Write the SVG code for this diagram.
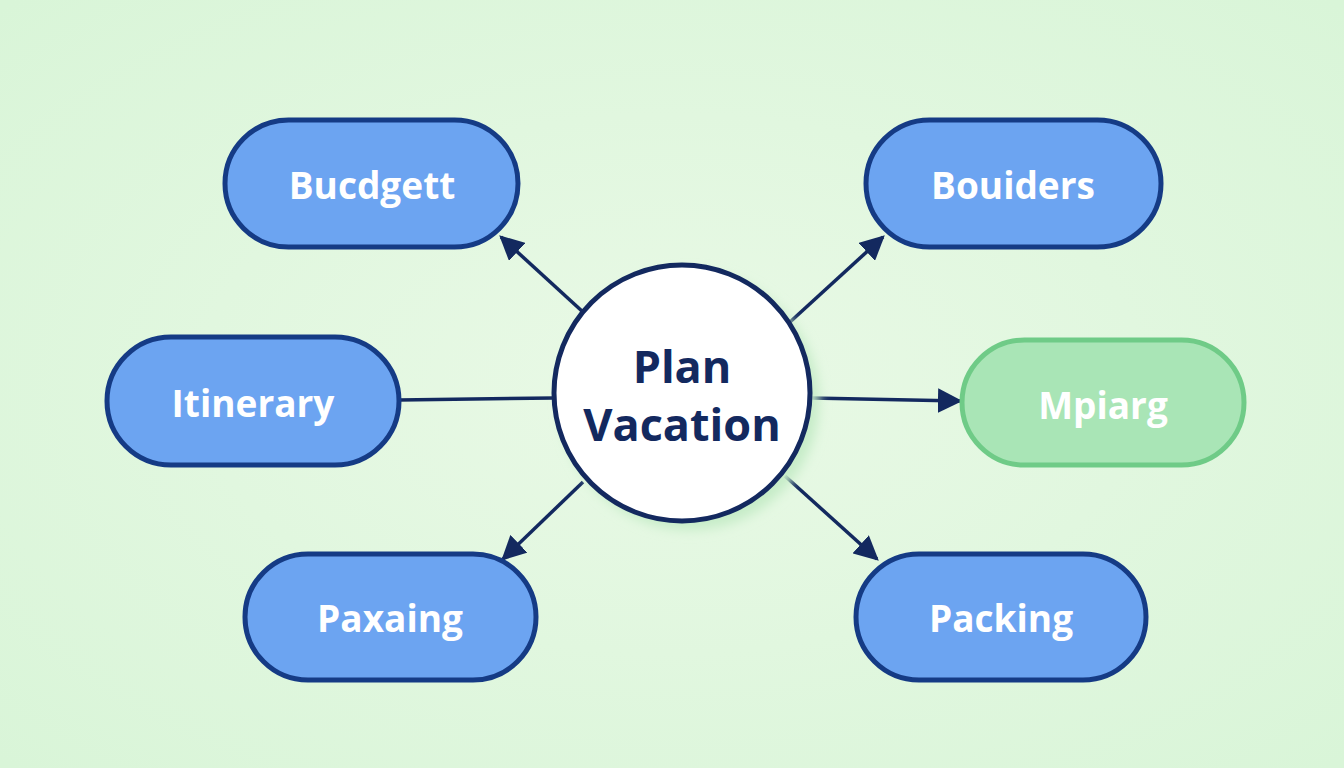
<svg xmlns="http://www.w3.org/2000/svg" width="1344" height="768" viewBox="0 0 1344 768">
<defs>
<radialGradient id="bg" cx="50%" cy="50%" r="70%">
<stop offset="0" stop-color="#e9f9e6"/>
<stop offset="1" stop-color="#d9f5d8"/>
</radialGradient>
<marker id="arr" viewBox="0 0 10 10" refX="9" refY="5" markerWidth="7" markerHeight="7" markerUnits="strokeWidth" orient="auto">
<path d="M0,0 L10,5 L0,10 z" fill="#13295f"/>
</marker>
<filter id="sh" x="-20%" y="-20%" width="140%" height="140%">
<feGaussianBlur stdDeviation="6"/>
</filter>
</defs>
<style>
.pill{fill:#6ca4f1;stroke:#153b85;stroke-width:5}
.gpill{fill:#a9e5b6;stroke:#6fcb87;stroke-width:5}
.lbl{font-family:"Open Sans","Lato",sans-serif;font-weight:700;font-size:37px;fill:#ffffff;text-anchor:middle;font-variant-ligatures:none}
.ctr{font-family:"Open Sans","Lato",sans-serif;font-weight:700;font-size:45px;fill:#13295f;text-anchor:middle;font-variant-ligatures:none}
.edge{stroke:#13295f;stroke-width:3.5;fill:none}
</style>
<rect width="1344" height="768" fill="url(#bg)"/>
<g id="connectors">
<line class="edge" x1="583" y1="312" x2="501" y2="237" marker-end="url(#arr)"/>
<line class="edge" x1="790" y1="322" x2="883" y2="237" marker-end="url(#arr)"/>
<line class="edge" x1="399" y1="400" x2="554" y2="398"/>
<line class="edge" x1="811" y1="398" x2="960" y2="401" marker-end="url(#arr)"/>
<line class="edge" x1="583" y1="482" x2="503" y2="559" marker-end="url(#arr)"/>
<line class="edge" x1="785" y1="476" x2="877" y2="559" marker-end="url(#arr)"/>
</g>
<g id="center">
<circle cx="690" cy="401" r="129" fill="#c6ecc8" filter="url(#sh)"/>
<circle cx="682" cy="393" r="128" fill="#ffffff" stroke="#13295f" stroke-width="5"/>
<text class="ctr" x="682" y="383">Plan</text>
<text class="ctr" x="682" y="441">Vacation</text>
</g>
<g id="budgett">
<rect class="pill" x="225" y="120" width="293" height="127" rx="63.5"/>
<text class="lbl" x="372" y="199">Bucdgett</text>
</g>
<g id="bouiders">
<rect class="pill" x="866" y="120" width="295" height="127" rx="63.5"/>
<text class="lbl" x="1013" y="199">Bouiders</text>
</g>
<g id="itinerary">
<rect class="pill" x="107" y="337" width="292" height="128" rx="64"/>
<text class="lbl" x="253" y="417">Itinerary</text>
</g>
<g id="mpiarg">
<rect class="gpill" x="962" y="340" width="282" height="125" rx="62.5"/>
<text class="lbl" x="1103" y="419">Mpiarg</text>
</g>
<g id="paxaing">
<rect class="pill" x="245" y="554" width="291" height="126" rx="63"/>
<text class="lbl" x="390" y="632">Paxaing</text>
</g>
<g id="packing">
<rect class="pill" x="856" y="554" width="290" height="126" rx="63"/>
<text class="lbl" x="1001" y="632">Packing</text>
</g>
</svg>
